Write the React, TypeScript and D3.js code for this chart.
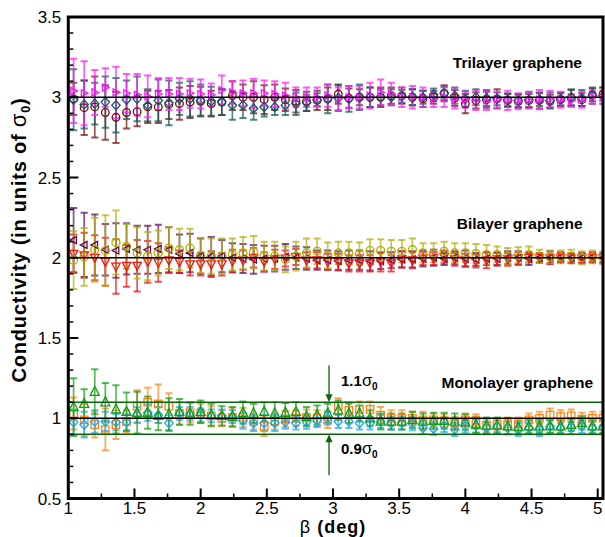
import React from "react";
import * as d3 from "d3";

const W = 605;
const H = 537;

// β grid (deg)
const BETA = [1.04, 1.12, 1.2, 1.28, 1.36, 1.44, 1.52, 1.6, 1.68, 1.76, 1.84, 1.92, 2.0, 2.08, 2.16, 2.24, 2.32, 2.4, 2.48, 2.56, 2.64, 2.72, 2.8, 2.88, 2.96, 3.04, 3.12, 3.2, 3.28, 3.36, 3.44, 3.52, 3.6, 3.68, 3.76, 3.84, 3.92, 4.0, 4.08, 4.16, 4.24, 4.32, 4.4, 4.48, 4.56, 4.64, 4.72, 4.8, 4.88, 4.96, 5.04];

// Trilayer
const TRI_A = [3.04, 3.025, 3.03, 3.06, 3.03, 3.025, 3.015, 3.005, 3.02, 3.02, 3.02, 3.025, 3.02, 3.015, 3.045, 3.03, 3.025, 3.025, 3.025, 3.02, 3.01, 3.0, 3.0, 3.0, 3.01, 2.99, 3.0, 3.0, 3.01, 3.03, 3.02, 3.0, 3.0, 3.0, 2.99, 3.0, 2.99, 2.985, 2.98, 2.98, 2.985, 2.98, 2.975, 2.98, 2.985, 2.99, 2.985, 2.98, 2.985, 3.0, 3.0];
const TRI_A_ERR = [0.2, 0.2, 0.14, 0.12, 0.16, 0.12, 0.13, 0.13, 0.1, 0.1, 0.1, 0.09, 0.09, 0.07, 0.09, 0.07, 0.08, 0.09, 0.08, 0.08, 0.08, 0.06, 0.06, 0.06, 0.07, 0.07, 0.07, 0.07, 0.08, 0.08, 0.07, 0.06, 0.07, 0.06, 0.05, 0.06, 0.06, 0.05, 0.06, 0.06, 0.05, 0.06, 0.05, 0.05, 0.06, 0.05, 0.05, 0.04, 0.05, 0.04, 0.04];
const TRI_B = [2.99, 2.935, 2.94, 2.905, 2.875, 2.905, 2.91, 2.94, 2.94, 2.955, 2.96, 2.97, 2.975, 2.96, 2.97, 3.01, 3.0, 3.0, 2.985, 3.0, 2.985, 2.975, 2.975, 2.98, 2.99, 3.02, 2.995, 3.0, 3.0, 3.0, 3.01, 3.01, 3.0, 2.99, 3.0, 3.025, 2.995, 2.96, 2.98, 2.985, 2.99, 2.98, 2.975, 2.98, 2.98, 2.975, 2.985, 2.995, 2.985, 3.015, 3.02];
const TRI_B_ERR = [0.1, 0.17, 0.19, 0.17, 0.16, 0.1, 0.09, 0.1, 0.1, 0.09, 0.1, 0.1, 0.09, 0.08, 0.08, 0.09, 0.08, 0.1, 0.09, 0.08, 0.07, 0.07, 0.06, 0.06, 0.07, 0.06, 0.06, 0.05, 0.06, 0.06, 0.05, 0.05, 0.05, 0.05, 0.04, 0.05, 0.05, 0.06, 0.05, 0.05, 0.06, 0.04, 0.04, 0.04, 0.05, 0.04, 0.04, 0.05, 0.04, 0.04, 0.04];
const TRI_C = [2.985, 2.955, 2.96, 2.97, 2.95, 2.985, 2.99, 2.95, 2.98, 2.965, 2.99, 2.99, 2.98, 2.975, 2.97, 2.95, 2.95, 2.93, 2.94, 2.94, 2.95, 2.96, 2.965, 2.985, 2.99, 2.995, 2.99, 3.0, 3.0, 3.0, 3.0, 3.005, 3.0, 3.0, 3.015, 3.025, 3.01, 2.99, 3.0, 2.995, 2.99, 2.985, 2.98, 2.985, 2.985, 2.98, 2.99, 3.0, 2.995, 3.01, 3.01];
const TRI_C_ERR = [0.19, 0.15, 0.13, 0.16, 0.17, 0.12, 0.14, 0.1, 0.13, 0.14, 0.1, 0.11, 0.1, 0.09, 0.08, 0.09, 0.08, 0.07, 0.06, 0.05, 0.06, 0.07, 0.05, 0.04, 0.09, 0.08, 0.08, 0.08, 0.06, 0.05, 0.05, 0.04, 0.05, 0.04, 0.04, 0.04, 0.05, 0.05, 0.05, 0.05, 0.04, 0.04, 0.04, 0.05, 0.04, 0.05, 0.04, 0.05, 0.05, 0.05, 0.05];

// Bilayer
const BI_A = [1.985, 2.005, 2.05, 2.045, 2.095, 2.07, 2.03, 2.01, 2.03, 2.06, 2.05, 2.06, 2.015, 2.01, 2.01, 2.02, 2.03, 2.035, 2.01, 2.01, 1.99, 2.01, 2.03, 2.04, 2.015, 2.03, 2.03, 2.025, 2.045, 2.045, 2.04, 2.04, 2.05, 2.03, 2.03, 2.04, 2.03, 2.03, 2.025, 2.02, 2.02, 2.01, 2.015, 2.02, 2.01, 2.005, 2.005, 2.01, 2.0, 2.005, 2.0];
const BI_A_ERR = [0.18, 0.18, 0.2, 0.22, 0.2, 0.14, 0.16, 0.15, 0.14, 0.13, 0.13, 0.12, 0.11, 0.11, 0.11, 0.1, 0.1, 0.1, 0.09, 0.09, 0.08, 0.09, 0.09, 0.08, 0.08, 0.07, 0.07, 0.07, 0.07, 0.07, 0.07, 0.07, 0.07, 0.06, 0.06, 0.06, 0.06, 0.06, 0.06, 0.06, 0.05, 0.05, 0.05, 0.05, 0.04, 0.04, 0.04, 0.04, 0.04, 0.04, 0.04];
const BI_B = [2.025, 2.015, 2.0, 1.975, 1.945, 1.95, 1.95, 1.975, 1.97, 1.985, 1.975, 1.96, 1.96, 1.96, 1.96, 1.98, 1.985, 2.0, 1.975, 1.99, 1.995, 2.005, 1.985, 1.985, 1.975, 1.975, 1.965, 1.965, 1.965, 1.975, 1.965, 1.99, 1.985, 1.995, 1.995, 2.005, 1.99, 1.985, 1.98, 1.985, 1.99, 1.99, 1.995, 2.0, 2.0, 1.995, 2.0, 1.995, 1.995, 2.0, 1.995];
const BI_B_ERR = [0.12, 0.14, 0.14, 0.15, 0.17, 0.13, 0.16, 0.13, 0.12, 0.08, 0.07, 0.07, 0.07, 0.08, 0.07, 0.07, 0.06, 0.06, 0.06, 0.06, 0.05, 0.05, 0.05, 0.05, 0.05, 0.05, 0.05, 0.05, 0.05, 0.06, 0.05, 0.05, 0.05, 0.04, 0.04, 0.04, 0.04, 0.04, 0.04, 0.05, 0.04, 0.04, 0.04, 0.03, 0.03, 0.03, 0.03, 0.03, 0.03, 0.03, 0.03];
const BI_C = [2.11, 2.08, 2.08, 2.05, 2.045, 2.055, 2.05, 2.05, 2.055, 2.05, 2.025, 2.03, 2.01, 2.01, 2.01, 2.0, 1.995, 1.99, 1.995, 1.995, 2.005, 2.0, 1.995, 1.985, 1.985, 1.98, 1.985, 1.985, 1.98, 1.98, 1.985, 1.99, 1.99, 1.995, 2.0, 1.995, 2.0, 1.995, 1.99, 1.995, 1.995, 2.0, 2.0, 1.995, 2.0, 2.0, 2.005, 2.0, 2.0, 2.005, 2.0];
const BI_C_ERR = [0.2, 0.2, 0.19, 0.16, 0.17, 0.16, 0.15, 0.15, 0.15, 0.14, 0.12, 0.12, 0.11, 0.12, 0.1, 0.09, 0.09, 0.09, 0.08, 0.08, 0.08, 0.07, 0.07, 0.06, 0.06, 0.06, 0.06, 0.06, 0.06, 0.05, 0.05, 0.05, 0.05, 0.05, 0.05, 0.04, 0.04, 0.05, 0.04, 0.04, 0.04, 0.04, 0.04, 0.04, 0.03, 0.04, 0.03, 0.03, 0.03, 0.03, 0.03];

// Monolayer
const MONO_A = [1.07, 1.09, 1.165, 1.1, 1.055, 1.04, 1.035, 1.035, 1.015, 1.025, 1.04, 1.03, 1.04, 1.02, 1.015, 1.01, 1.035, 1.03, 1.04, 1.03, 1.035, 1.04, 1.01, 1.02, 1.03, 1.05, 1.03, 1.03, 1.0, 0.98, 0.98, 0.98, 0.99, 0.98, 0.985, 0.985, 0.98, 0.975, 0.96, 0.955, 0.955, 0.95, 0.945, 0.95, 0.95, 0.95, 0.95, 0.96, 0.97, 0.95, 0.95];
const MONO_A_ERR = [0.18, 0.09, 0.14, 0.12, 0.15, 0.12, 0.13, 0.1, 0.09, 0.1, 0.08, 0.07, 0.07, 0.07, 0.06, 0.06, 0.07, 0.06, 0.06, 0.07, 0.06, 0.06, 0.06, 0.06, 0.06, 0.06, 0.06, 0.05, 0.05, 0.05, 0.05, 0.05, 0.05, 0.05, 0.05, 0.05, 0.05, 0.05, 0.05, 0.05, 0.05, 0.05, 0.04, 0.04, 0.04, 0.04, 0.04, 0.04, 0.04, 0.04, 0.04];
const MONO_B = [1.03, 0.99, 0.96, 0.93, 0.96, 0.98, 1.075, 1.1, 1.09, 1.075, 1.03, 1.035, 1.03, 1.015, 1.0, 1.005, 1.005, 0.98, 0.95, 0.98, 0.995, 1.0, 1.005, 1.0, 0.99, 1.075, 1.05, 1.055, 1.055, 1.02, 1.0, 1.0, 1.0, 0.99, 0.99, 0.985, 0.97, 0.99, 0.985, 0.955, 0.96, 0.965, 0.965, 0.99, 1.0, 1.02, 1.01, 1.015, 0.995, 1.0, 1.0];
const MONO_B_ERR = [0.1, 0.1, 0.08, 0.13, 0.09, 0.07, 0.1, 0.09, 0.12, 0.08, 0.07, 0.06, 0.06, 0.06, 0.05, 0.06, 0.06, 0.05, 0.06, 0.05, 0.05, 0.05, 0.05, 0.05, 0.05, 0.05, 0.05, 0.05, 0.05, 0.05, 0.05, 0.05, 0.04, 0.05, 0.04, 0.04, 0.04, 0.04, 0.04, 0.04, 0.04, 0.04, 0.04, 0.04, 0.04, 0.04, 0.04, 0.04, 0.04, 0.04, 0.04];
const MONO_C = [0.975, 0.96, 0.98, 0.98, 0.975, 0.975, 1.02, 1.035, 1.02, 0.97, 1.03, 1.03, 1.02, 1.015, 1.015, 1.01, 0.985, 0.97, 0.97, 0.97, 0.975, 0.97, 0.975, 0.985, 1.0, 0.98, 0.98, 0.97, 0.97, 0.98, 0.97, 0.97, 0.965, 0.94, 0.935, 0.955, 0.93, 0.95, 0.95, 0.94, 0.95, 0.94, 0.93, 0.94, 0.93, 0.95, 0.94, 0.94, 0.95, 0.94, 0.945];
const MONO_C_ERR = [0.08, 0.08, 0.07, 0.06, 0.05, 0.05, 0.05, 0.05, 0.05, 0.05, 0.04, 0.04, 0.04, 0.04, 0.04, 0.04, 0.05, 0.05, 0.05, 0.05, 0.04, 0.04, 0.04, 0.04, 0.04, 0.04, 0.04, 0.04, 0.04, 0.04, 0.04, 0.04, 0.04, 0.04, 0.04, 0.04, 0.04, 0.04, 0.04, 0.04, 0.04, 0.04, 0.04, 0.04, 0.04, 0.04, 0.04, 0.04, 0.04, 0.04, 0.04];

const X_TICKS = [1, 1.5, 2, 2.5, 3, 3.5, 4, 4.5, 5];
const X_MINOR = [1.25, 1.75, 2.25, 2.75, 3.25, 3.75, 4.25, 4.75];
const Y_TICKS = [0.5, 1, 1.5, 2, 2.5, 3, 3.5];
const REF_LINES = [1, 2, 3];
const BAND_LINES = [0.9, 1.1];
const LAYER_LABELS = ["Trilayer graphene", "Bilayer graphene", "Monolayer graphene"];
const LAYER_LABEL_X = [3.905, 3.935, 3.82];
const LAYER_LABEL_Y = [3.18, 2.18, 1.19];

type Shape = "circle" | "diamond" | "triR" | "triL" | "triD" | "triU" | "square";

const SERIES: { y: number[]; e: number[]; color: string; bar: string; shape: Shape; s: number }[] = [
  { y: TRI_B, e: TRI_B_ERR, color: "#7a0a0a", bar: "#7a1010", shape: "circle", s: 3.8 },
  { y: TRI_C, e: TRI_C_ERR, color: "#0a6060", bar: "#0d5c5c", shape: "diamond", s: 4.2 },
  { y: TRI_A, e: TRI_A_ERR, color: "#ff10ff", bar: "#ff20ff", shape: "triR", s: 3.5 },
  { y: BI_C, e: BI_C_ERR, color: "#5a0a5a", bar: "#5a105a", shape: "triL", s: 3.5 },
  { y: BI_B, e: BI_B_ERR, color: "#ff1010", bar: "#e81010", shape: "triD", s: 4.2 },
  { y: BI_A, e: BI_A_ERR, color: "#b0b000", bar: "#b0b010", shape: "circle", s: 4.0 },
  { y: MONO_B, e: MONO_B_ERR, color: "#ff8010", bar: "#ff8a20", shape: "square", s: 3.7 },
  { y: MONO_C, e: MONO_C_ERR, color: "#18a8ec", bar: "#20a8f0", shape: "diamond", s: 4.2 },
  { y: MONO_A, e: MONO_A_ERR, color: "#10a010", bar: "#18a018", shape: "triU", s: 4.5 },
];

function markerPath(shape: Shape, s: number): string {
  switch (shape) {
    case "diamond":
      return `M0,${-s * 1.1}L${s},0L0,${s * 1.1}L${-s},0Z`;
    case "triR":
      return `M${-s * 0.8},${-s}L${s * 1.1},0L${-s * 0.8},${s}Z`;
    case "triL":
      return `M${s * 0.8},${-s}L${-s * 1.1},0L${s * 0.8},${s}Z`;
    case "triD":
      return `M${-s},${-s * 0.8}L${s},${-s * 0.8}L0,${s * 1.1}Z`;
    case "triU":
      return `M${-s},${s * 0.8}L${s},${s * 0.8}L0,${-s * 1.2}Z`;
    case "square":
      return `M${-s},${-s}H${s}V${s}H${-s}Z`;
    default:
      return "";
  }
}

export default function App() {
  const left = 68.3;
  const right = 603;
  const top = 17;
  const bottom = 498.5;
  const x = d3.scaleLinear().domain([1, 5.04]).range([left, right]);
  const y = d3.scaleLinear().domain([0.5, 3.5]).range([bottom, top]);
  const yMinor = d3.range(0.6, 3.5, 0.1).filter((v) => Math.abs(v * 2 - Math.round(v * 2)) > 1e-6);
  const capW = 3.6;
  const font = "'Liberation Sans', Arial, Helvetica, sans-serif";
  const green = "#0b650b";
  const arrowX = x(2.97);

  return (
    <svg width={W} height={H} style={{ position: "absolute", left: 0, top: 0, background: "#fff" }} fontFamily={font}>
      <defs>
        <clipPath id="plot">
          <rect x={left} y={top} width={right - left} height={bottom - top} />
        </clipPath>
      </defs>
      <g clipPath="url(#plot)">
        {SERIES.map((s, si) => (
          <g key={"bars" + si} stroke={s.bar} strokeWidth={1.7} strokeOpacity={0.72} fill="none">
            {BETA.map((b, i) => {
              const cx = x(b);
              const y1 = y(s.y[i] + s.e[i]);
              const y2 = y(s.y[i] - s.e[i]);
              return (
                <g key={i}>
                  <line x1={cx} x2={cx} y1={y1} y2={y2} />
                  <line x1={cx - capW} x2={cx + capW} y1={y1} y2={y1} strokeWidth={2} />
                  <line x1={cx - capW} x2={cx + capW} y1={y2} y2={y2} strokeWidth={2} />
                </g>
              );
            })}
          </g>
        ))}
        {SERIES.map((s, si) => (
          <g key={"marks" + si} stroke={s.color} strokeWidth={1.3} fill="none">
            {BETA.map((b, i) =>
              s.shape === "circle" ? (
                <circle key={i} cx={x(b)} cy={y(s.y[i])} r={s.s} />
              ) : (
                <path key={i} transform={`translate(${x(b)},${y(s.y[i])})`} d={markerPath(s.shape, s.s)} />
              )
            )}
          </g>
        ))}
        {BAND_LINES.map((v) => (
          <line key={"b" + v} x1={left} x2={right} y1={y(v)} y2={y(v)} stroke={green} strokeWidth={1.5} />
        ))}
        {REF_LINES.map((v) => (
          <line key={"r" + v} x1={left} x2={right} y1={y(v)} y2={y(v)} stroke="#000" strokeWidth={1.5} />
        ))}
      </g>

      {/* arrows */}
      <g stroke={green} fill={green}>
        <line x1={arrowX} x2={arrowX} y1={y(1.33)} y2={y(1.13)} strokeWidth={1.3} />
        <path d={`M${arrowX - 3.5},${y(1.15)}L${arrowX + 3.5},${y(1.15)}L${arrowX},${y(1.1)}Z`} stroke="none" />
        <line x1={arrowX} x2={arrowX} y1={y(0.645)} y2={y(0.87)} strokeWidth={1.3} />
        <path d={`M${arrowX - 3.5},${y(0.85)}L${arrowX + 3.5},${y(0.85)}L${arrowX},${y(0.9)}Z`} stroke="none" />
      </g>
      <text x={arrowX + 12} y={y(1.2)} fontSize={15} fontWeight="bold" fill="#000">
        1.1<tspan fontWeight="normal" fontSize={16.5}>σ</tspan>
        <tspan fontSize={10} dy={4}>0</tspan>
      </text>
      <text x={arrowX + 12} y={y(0.775)} fontSize={15} fontWeight="bold" fill="#000">
        0.9<tspan fontWeight="normal" fontSize={16.5}>σ</tspan>
        <tspan fontSize={10} dy={4}>0</tspan>
      </text>

      {LAYER_LABELS.map((t, i) => (
        <text key={t} x={x(LAYER_LABEL_X[i])} y={y(LAYER_LABEL_Y[i])} fontSize={15.5} fontWeight="bold" fill="#000">
          {t}
        </text>
      ))}

      {/* axes ticks */}
      <g stroke="#000">
        {X_TICKS.map((v) => (
          <line key={"xt" + v} x1={x(v)} x2={x(v)} y1={bottom} y2={bottom - 10} strokeWidth={2} />
        ))}
        {X_MINOR.map((v) => (
          <line key={"xm" + v} x1={x(v)} x2={x(v)} y1={bottom} y2={bottom - 5} strokeWidth={1.5} />
        ))}
        {Y_TICKS.map((v) => (
          <line key={"yt" + v} x1={left} x2={left + 10} y1={y(v)} y2={y(v)} strokeWidth={2} />
        ))}
        {yMinor.map((v) => (
          <line key={"ym" + v} x1={left} x2={left + 5} y1={y(v)} y2={y(v)} strokeWidth={1.5} />
        ))}
      </g>
      <rect x={left} y={top} width={right - left} height={bottom - top} fill="none" stroke="#000" strokeWidth={3} />

      {X_TICKS.map((v) => (
        <text key={"xl" + v} x={x(v)} y={bottom + 15} fontSize={17} textAnchor="middle" fill="#000">
          {String(v)}
        </text>
      ))}
      {Y_TICKS.map((v) => (
        <text key={"yl" + v} x={left - 7} y={y(v) + 6} fontSize={17} textAnchor="end" fill="#000">
          {String(v)}
        </text>
      ))}
      <text x={x(3)} y={533} fontSize={18} fontWeight="bold" textAnchor="middle" letterSpacing={1} fill="#000">
        <tspan fontWeight="normal">β</tspan> (deg)
      </text>
      <text transform={`translate(26,240) rotate(-90)`} fontSize={20} fontWeight="bold" textAnchor="middle" letterSpacing={0.8} fill="#000">
        Conductivity (in units of <tspan fontWeight="normal" fontSize={22}>σ</tspan>
        <tspan fontSize={12.5} dy={4}>0</tspan>
        <tspan dy={-4}>)</tspan>
      </text>
    </svg>
  );
}
